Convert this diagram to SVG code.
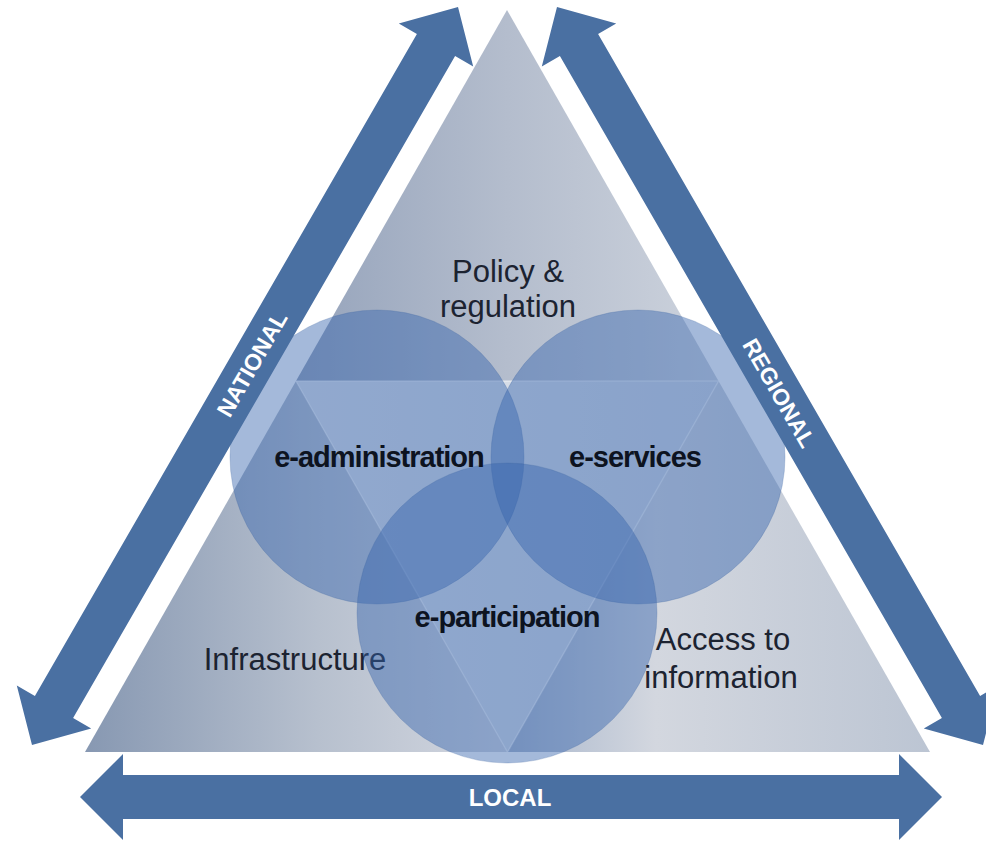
<svg xmlns="http://www.w3.org/2000/svg" width="986" height="843" viewBox="0 0 986 843">
  <defs>
    <linearGradient id="gTop" gradientUnits="userSpaceOnUse" x1="296" y1="0" x2="719" y2="0">
      <stop offset="0" stop-color="#95a3bb"/>
      <stop offset="0.5" stop-color="#b4bdcd"/>
      <stop offset="1" stop-color="#cdd3dd"/>
    </linearGradient>
    <linearGradient id="gLeft" gradientUnits="userSpaceOnUse" x1="85" y1="0" x2="508" y2="0">
      <stop offset="0" stop-color="#8798b2"/>
      <stop offset="0.55" stop-color="#b7c0ce"/>
      <stop offset="1" stop-color="#d3d7e0"/>
    </linearGradient>
    <linearGradient id="gRight" gradientUnits="userSpaceOnUse" x1="508" y1="0" x2="930" y2="0">
      <stop offset="0" stop-color="#a8b6cc"/>
      <stop offset="0.35" stop-color="#d3d7df"/>
      <stop offset="1" stop-color="#bcc5d3"/>
    </linearGradient>
    <linearGradient id="gInner" gradientUnits="userSpaceOnUse" x1="296" y1="0" x2="719" y2="0">
      <stop offset="0" stop-color="#dde2ea"/>
      <stop offset="1" stop-color="#ced6e2"/>
    </linearGradient>
  </defs>
  <style>
    .arrow { fill: #4a70a2; }
    .circle { fill: #3564ae; fill-opacity: 0.45; stroke: #3c64a0; stroke-opacity: 0.25; stroke-width: 1; }
    .lbl { font-family: "Liberation Sans", Arial, sans-serif; font-size: 31px; fill: #1c2331; text-anchor: middle; }
    .bold { font-family: "Liberation Sans", Arial, sans-serif; font-size: 29px; font-weight: bold; letter-spacing: -1px; fill: #0d1320; text-anchor: middle; }
    .alb { font-family: "Liberation Sans", Arial, sans-serif; font-weight: bold; fill: #ffffff; text-anchor: middle; }
    .edge { fill: none; stroke: #ffffff; stroke-opacity: 0.45; stroke-width: 1.5; }
  </style>

  <g id="triangle">
    <polygon points="507,10 296,381 718.5,381" fill="url(#gTop)"/>
    <polygon points="296,381 85,752 507.5,752" fill="url(#gLeft)"/>
    <polygon points="718.5,381 507.5,752 930,752" fill="url(#gRight)"/>
    <polygon points="296,381 718.5,381 507.5,752" fill="url(#gInner)"/>
    <polygon class="edge" points="296,381 718.5,381 507.5,752"/>
  </g>

  <g id="infrastructure">
    <text class="lbl" x="295" y="670">Infrastructure</text>
  </g>

  <g id="e-administration">
    <circle class="circle" cx="377" cy="457" r="147"/>
  </g>
  <g id="e-services">
    <circle class="circle" cx="638" cy="457" r="147"/>
  </g>
  <g id="e-participation">
    <circle class="circle" cx="507" cy="613" r="150"/>
  </g>

  <g id="labels">
    <text class="bold" x="379" y="467">e-administration</text>
    <text class="bold" x="635" y="467">e-services</text>
    <text class="bold" x="507" y="627">e-participation</text>
  </g>

  <g id="policy">
    <text class="lbl" x="508" y="282">Policy &amp;</text>
    <text class="lbl" x="508" y="317">regulation</text>
  </g>

  <g id="access">
    <text class="lbl" x="723" y="650">Access to</text>
    <text class="lbl" x="721" y="688">information</text>
  </g>

  <g id="connectors">
    <g id="national">
      <polygon class="arrow" points="458,7 473.2,66.6 455.1,56.1 73.1,717.9 91.2,728.4 32,745 16.8,685.4 34.9,695.9 416.9,34.1 398.8,23.6"/>
      <text class="alb" font-size="23" transform="translate(252,364) rotate(-60)" y="8">NATIONAL</text>
    </g>
    <g id="regional">
      <polygon class="arrow" points="557,7 541.8,66.6 559.9,56.1 941.9,717.9 923.8,728.4 983,745 998.2,685.4 980.1,695.9 598.1,34.1 616.2,23.6"/>
      <text class="alb" font-size="23" transform="translate(779,393) rotate(60)" y="8">REGIONAL</text>
    </g>
    <g id="local">
      <polygon class="arrow" points="80,797 123,754 123,775 899,775 899,754 942,797 899,840 899,819 123,819 123,840"/>
      <text class="alb" font-size="24" x="510" y="806">LOCAL</text>
    </g>
  </g>
</svg>
